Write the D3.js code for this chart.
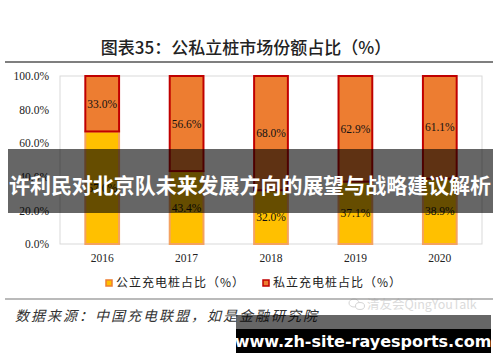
<!DOCTYPE html>
<html>
<head>
    <title>公私立桩市场份额占比</title>
    <script src="https://d3js.org/d3.v7.min.js"></script>
    <style>
        body { margin: 0; background: #fff; }
        svg { display: block; }
    </style>
</head>
<body>
    <svg id="chart" width="500" height="362"></svg>

    <script>
        // data
        const years = ["2016", "2017", "2018", "2019", "2020"];
        const publicShare = [67.0, 43.4, 32.0, 37.1, 38.9];
        const privateShare = [33.0, 56.6, 68.0, 62.9, 61.1];
        const yTicks = [0, 20, 40, 60, 80, 100];
        const seriesNames = ["公立充电桩占比（%）", "私立充电桩占比（%）"];

        const svg = d3.select("svg#chart");
        const plot = { left: 60, right: 482, top: 76, bottom: 244 };
        const serif = "'Liberation Serif', 'Times New Roman', serif";
        const cjk = "'Noto Sans CJK SC', sans-serif";

        const x = d3.scaleBand().domain(years).range([plot.left, plot.right]).paddingInner(0.6).paddingOuter(0.3);
        const y = d3.scaleLinear().domain([0, 100]).range([plot.bottom, plot.top]);

        const rows = years.map((yr, i) => ({ year: yr, pub: publicShare[i], pri: privateShare[i] }));

        // title + rule
        svg.append("text")
            .attr("x", 246).attr("y", 54)
            .attr("text-anchor", "middle")
            .style("font-family", cjk).style("font-size", "17px").style("font-weight", 500)
            .style("fill", "#222")
            .text("图表35：公私立桩市场份额占比（%）");

        svg.append("line").attr("x1", 5).attr("x2", 493).attr("y1", 62).attr("y2", 62)
            .style("stroke", "#555").style("stroke-width", 1.5);

        // plot frame
        svg.append("rect")
            .attr("x", plot.left).attr("y", plot.top)
            .attr("width", plot.right - plot.left).attr("height", plot.bottom - plot.top)
            .style("fill", "none").style("stroke", "#d9d9d9").style("stroke-width", 1);

        // y axis
        const yAxis = svg.append("g")
            .attr("transform", "translate(" + (plot.left - 4) + ",0)")
            .call(d3.axisLeft(y).tickValues(yTicks).tickSize(0).tickPadding(7).tickFormat(d => d3.format(".1f")(d) + "%"));
        yAxis.select(".domain").remove();
        yAxis.selectAll("text").style("font-family", serif).style("font-size", "11.5px").style("fill", "#222");

        // x axis
        const xAxis = svg.append("g")
            .attr("transform", "translate(0," + plot.bottom + ")")
            .call(d3.axisBottom(x).tickSize(0).tickPadding(10));
        xAxis.select(".domain").remove();
        xAxis.selectAll("text").style("font-family", serif).style("font-size", "11.5px").style("fill", "#222");

        // bars
        const bar = svg.selectAll(".bar").data(rows).join("g").attr("class", "bar");

        bar.append("rect")
            .attr("x", d => x(d.year))
            .attr("y", d => y(d.pub))
            .attr("width", x.bandwidth())
            .attr("height", d => y(0) - y(d.pub))
            .style("fill", "#FFC000").style("stroke", "#F4A261").style("stroke-width", 2);

        bar.append("rect")
            .attr("x", d => x(d.year))
            .attr("y", d => y(d.pub + d.pri))
            .attr("width", x.bandwidth())
            .attr("height", d => y(d.pub) - y(d.pub + d.pri))
            .style("fill", "#ED7D31").style("stroke", "#C00000").style("stroke-width", 2);

        bar.append("text")
            .attr("x", d => x(d.year) + x.bandwidth() / 2)
            .attr("y", d => y(d.pub / 2))
            .attr("dy", "0.35em").attr("text-anchor", "middle")
            .style("font-family", serif).style("font-size", "11.5px").style("fill", "#111")
            .text(d => d.pub.toFixed(1) + "%");

        bar.append("text")
            .attr("x", d => x(d.year) + x.bandwidth() / 2)
            .attr("y", d => y(d.pub + d.pri / 2))
            .attr("dy", "0.35em").attr("text-anchor", "middle")
            .style("font-family", serif).style("font-size", "11.5px").style("fill", "#111")
            .text(d => d.pri.toFixed(1) + "%");

        // legend
        const legendFill = ["#FFC000", "#ED7D31"];
        const legendStroke = ["#ED7D31", "#C00000"];
        const legendX = [106, 263];
        const legend = svg.selectAll(".legend").data(seriesNames).join("g")
            .attr("class", "legend")
            .attr("transform", (d, i) => "translate(" + legendX[i] + ",280)");
        legend.append("rect")
            .attr("width", 6).attr("height", 6)
            .style("fill", (d, i) => legendFill[i])
            .style("stroke", (d, i) => legendStroke[i]).style("stroke-width", 1.5);
        legend.append("text")
            .attr("x", 10).attr("y", 3).attr("dy", "0.35em")
            .style("font-family", cjk).style("font-size", "12px").style("letter-spacing", "1px")
            .style("fill", "#222")
            .text(d => d);

        svg.append("line").attr("x1", 5).attr("x2", 493).attr("y1", 299).attr("y2", 299)
            .style("stroke", "#777").style("stroke-width", 1.2);

        // source
        svg.append("text")
            .attr("x", 15).attr("y", 321)
            .style("font-family", cjk).style("font-size", "14px").style("font-style", "italic")
            .style("letter-spacing", "2px").style("fill", "#333")
            .text("数据来源：中国充电联盟，如是金融研究院");

        // faint watermark
        const wm = svg.append("g").style("opacity", 0.35);
        wm.append("ellipse").attr("cx", 354).attr("cy", 303).attr("rx", 5).attr("ry", 4)
            .style("fill", "none").style("stroke", "#888");
        wm.append("ellipse").attr("cx", 360).attr("cy", 306).attr("rx", 4.5).attr("ry", 3.5)
            .style("fill", "#fff").style("stroke", "#888");
        wm.append("text").attr("x", 367).attr("y", 309)
            .style("font-family", cjk).style("font-size", "12.5px").style("fill", "#999")
            .text("清友会QingYouTalk");

        // overlay band with headline
        svg.append("rect")
            .attr("x", 8).attr("y", 149).attr("width", 485).attr("height", 64)
            .style("fill", "rgba(0,0,0,0.6)");
        svg.append("text")
            .attr("x", 9).attr("y", 193)
            .attr("textLength", 482).attr("lengthAdjust", "spacingAndGlyphs")
            .style("font-family", cjk).style("font-size", "21px").style("font-weight", 700)
            .style("fill", "#fff")
            .text("许利民对北京队未来发展方向的展望与战略建议解析");

        // bottom site band
        svg.append("rect").attr("x", 236).attr("y", 315).attr("width", 255).attr("height", 14)
            .style("fill", "rgba(0,0,0,0.6)");
        svg.append("rect").attr("x", 236).attr("y", 329).attr("width", 255).attr("height", 24)
            .style("fill", "#000");
        svg.append("text")
            .attr("x", 363).attr("y", 347)
            .attr("text-anchor", "middle")
            .style("font-family", "'DejaVu Sans', sans-serif").style("font-size", "16px").style("font-weight", 700)
            .style("fill", "#fff")
            .text("www.zh-site-rayesports.com");
    </script>
</body>
</html>
